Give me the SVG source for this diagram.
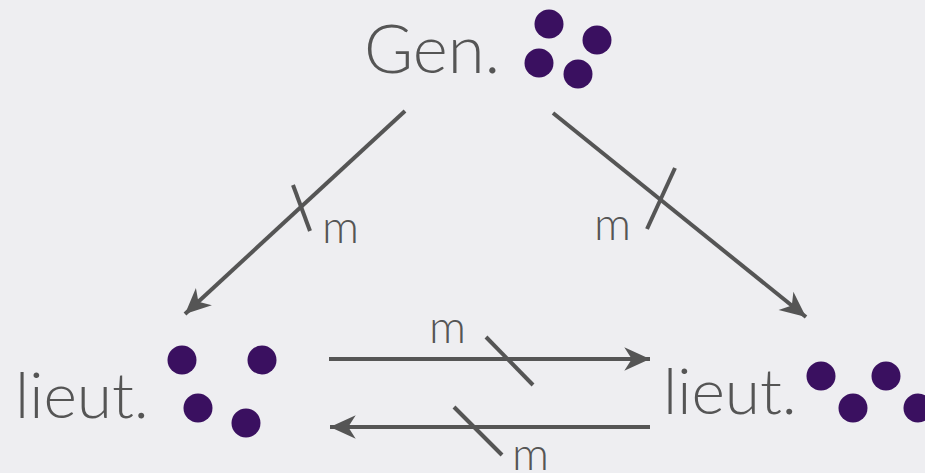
<svg xmlns="http://www.w3.org/2000/svg" width="925" height="473" viewBox="0 0 925 473">
  <style>
    .lbl { font-family: Lato, "Open Sans", "Liberation Sans", sans-serif; font-weight: 300; fill: #555555; }
    .big { font-size: 67px; }
    .name { font-size: 64px; }
    .msg { font-size: 46px; }
    .dot { fill: #3a1060; }
    .edge { stroke: #555555; stroke-width: 4; fill: none; }
    .tick { stroke: #555555; stroke-width: 4; fill: none; }
  </style>
  <defs>
    <marker id="head" markerUnits="userSpaceOnUse" markerWidth="30" markerHeight="30" refX="2" refY="0" viewBox="-24 -12 28 24" orient="auto" overflow="visible">
      <path d="M 2 0 L -22 -11 L -15 0 L -22 11 Z" fill="#555555"/>
    </marker>
  </defs>
  <rect width="925" height="473" fill="#eeeef1"/>

  <g id="general">
    <text class="lbl big" x="364" y="73">Gen.</text>
    <circle class="dot" cx="549" cy="24" r="14.5"/>
    <circle class="dot" cx="597" cy="40" r="14.5"/>
    <circle class="dot" cx="539" cy="63" r="14.5"/>
    <circle class="dot" cx="578" cy="74" r="14.5"/>
  </g>

  <g id="lieutenant-left">
    <text class="lbl name" x="15" y="418">lieut.</text>
    <circle class="dot" cx="182" cy="360" r="14.5"/>
    <circle class="dot" cx="262" cy="360" r="14.5"/>
    <circle class="dot" cx="198" cy="408" r="14.5"/>
    <circle class="dot" cx="246" cy="423" r="14.5"/>
  </g>

  <g id="lieutenant-right">
    <text class="lbl name" x="663" y="414">lieut.</text>
    <circle class="dot" cx="821" cy="376" r="14.5"/>
    <circle class="dot" cx="886" cy="376" r="14.5"/>
    <circle class="dot" cx="853" cy="408" r="14.5"/>
    <circle class="dot" cx="918" cy="408" r="14.5"/>
  </g>

  <g id="connectors">
    <line class="edge" x1="405" y1="111" x2="185" y2="314" marker-end="url(#head)"/>
    <line class="tick" x1="293" y1="185" x2="310" y2="231"/>
    <text class="lbl msg" x="322" y="243">m</text>

    <line class="edge" x1="553" y1="113" x2="806" y2="317" marker-end="url(#head)"/>
    <line class="tick" x1="675" y1="168" x2="647" y2="229"/>
    <text class="lbl msg" x="594" y="240">m</text>

    <line class="edge" x1="329" y1="359" x2="650" y2="359" marker-end="url(#head)"/>
    <line class="tick" x1="486" y1="337" x2="533" y2="385"/>
    <text class="lbl msg" x="429" y="343">m</text>

    <line class="edge" x1="650" y1="427" x2="330" y2="427" marker-end="url(#head)"/>
    <line class="tick" x1="454" y1="407" x2="502" y2="455"/>
    <text class="lbl msg" x="512" y="470">m</text>
  </g>
</svg>
